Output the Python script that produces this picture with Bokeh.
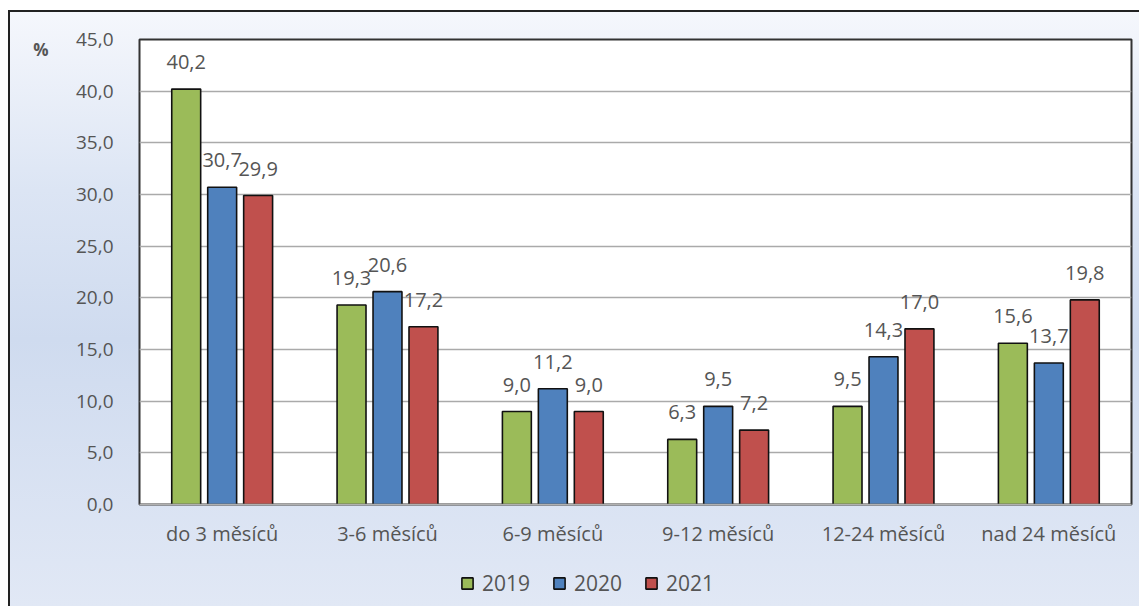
from bokeh.plotting import figure
from bokeh.layouts import column
from bokeh.models import (ColumnDataSource, FactorRange, Range1d, LabelSet, LinearAxis,
                          Legend, LegendItem, FixedTicker, CustomJSTickFormatter)
from bokeh.transform import dodge
from bokeh.core.properties import value
from bokeh.embed import file_html
from bokeh.resources import INLINE

categories = ["do 3 měsíců", "3-6 měsíců", "6-9 měsíců", "9-12 měsíců", "12-24 měsíců", "nad 24 měsíců"]
years = ["2019", "2020", "2021"]
values_2019 = [40.2, 19.3, 9.0, 6.3, 9.5, 15.6]
values_2020 = [30.7, 20.6, 11.2, 9.5, 14.3, 13.7]
values_2021 = [29.9, 17.2, 9.0, 7.2, 17.0, 19.8]
y_ticks = [0, 5, 10, 15, 20, 25, 30, 35, 40, 45]
unit_label = "%"

colors = ["#9bbb59", "#4f81bd", "#c0504d"]
offsets = [-0.2175, 0.0, 0.2175]
FONT = "Open Sans"
TXT = "#555555"
FS = "20px"

p = figure(x_range=FactorRange(*categories, range_padding=0), y_range=Range1d(0, 45),
           width=1129, height=544, output_backend="svg", toolbar_location=None,
           min_border_left=129, min_border_top=27, min_border_right=8, min_border_bottom=52)
p.border_fill_alpha = 0
p.background_fill_color = "white"
p.outline_line_color = "#333333"
p.outline_line_width = 2

p.xgrid.grid_line_color = None
p.ygrid.grid_line_color = "#aaaaaa"
p.ygrid.grid_line_width = 1.5
p.ygrid.ticker = FixedTicker(ticks=y_ticks)

p.yaxis.ticker = FixedTicker(ticks=y_ticks)
p.yaxis.formatter = CustomJSTickFormatter(code="return tick.toFixed(1).replace('.', ',');")
p.yaxis.axis_line_color = None
p.yaxis.major_tick_line_color = None
p.yaxis.minor_tick_line_color = None
p.yaxis.major_label_standoff = 20
p.yaxis.major_label_text_font = FONT
p.yaxis.major_label_text_font_size = "19px"
p.yaxis.major_label_text_color = TXT

# outer axis carrying only the unit label "%"
unit_axis = LinearAxis(ticker=FixedTicker(ticks=[44]), major_label_overrides={44: unit_label},
                       axis_line_color=None, major_tick_line_color=None, minor_tick_line_color=None,
                       major_label_standoff=18, major_label_text_font=FONT,
                       major_label_text_font_size="17px", major_label_text_color=TXT,
                       major_label_text_font_style="bold")
p.add_layout(unit_axis, "left")

p.xaxis.axis_line_color = "#b0b0b0"
p.xaxis.axis_line_width = 1.5
p.xaxis.major_tick_line_color = None
p.xaxis.minor_tick_line_color = None
p.xaxis.major_label_standoff = 9
p.xaxis.major_label_text_font = FONT
p.xaxis.major_label_text_font_size = FS
p.xaxis.major_label_text_color = TXT

series = [values_2019, values_2020, values_2021]
for yr, vals, col, off in zip(years, series, colors, offsets):
    src = ColumnDataSource(dict(cat=categories, val=vals,
                                lbl=[f"{v:.1f}".replace(".", ",") for v in vals]))
    p.vbar(x=dodge("cat", off, range=p.x_range), top="val", width=0.175, source=src,
           fill_color=col, line_color="#111111", line_width=1.6)
    ls = LabelSet(x=dodge("cat", off, range=p.x_range), y="val", text="lbl", source=src,
                  y_offset=27, text_align="center", text_baseline="middle",
                  text_font=value(FONT), text_font_size=FS, text_color=TXT)
    p.add_layout(ls)

# legend strip below the chart (its frame is aligned with the chart frame)
lf = figure(width=1129, height=50, output_backend="svg", toolbar_location=None,
            x_range=Range1d(0, 1), y_range=Range1d(0, 1),
            min_border_left=0, min_border_right=0, min_border_top=0, min_border_bottom=0)
lf.axis.visible = False
lf.grid.visible = False
lf.outline_line_color = None
lf.background_fill_alpha = 0
lf.border_fill_alpha = 0
items = []
for yr, col in zip(years, colors):
    r = lf.vbar(x=[float("nan")], top=[float("nan")], width=0.1,
                fill_color=col, line_color="#111111", line_width=1.6)
    items.append(LegendItem(label=yr, renderers=[r]))
legend = Legend(items=items, orientation="horizontal", location=(321, 9),
                padding=0, margin=0, spacing=22, label_standoff=8,
                glyph_width=14, glyph_height=14, border_line_color=None,
                background_fill_alpha=0, label_text_font=FONT,
                label_text_font_size="21px", label_text_color=TXT)
lf.add_layout(legend, "center")

layout = column(p, lf, spacing=0)
layout.margin = (10, 0, 0, 8)
layout.styles = {"background": "linear-gradient(to bottom, #f5f7fc 0%, #dce5f4 30%, #cfdbef 55%, #e1e8f5 100%)",
                 "border-left": "2px solid #222222", "border-top": "2px solid #222222"}

open("out.html", "w").write(file_html(layout, INLINE))
